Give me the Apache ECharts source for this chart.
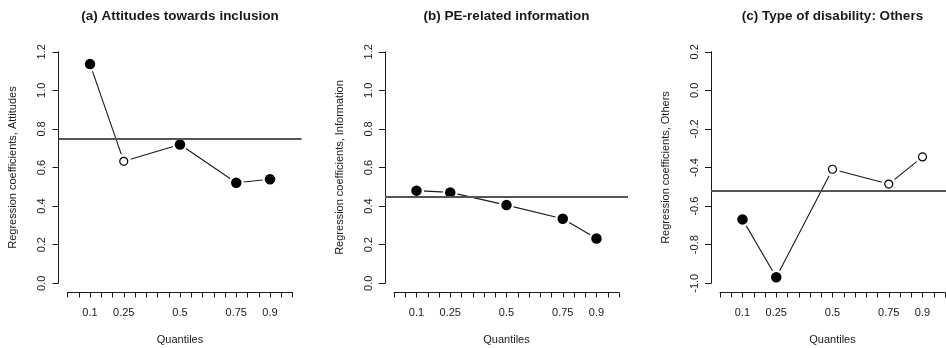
<!DOCTYPE html>
<html>
<head>
<meta charset="utf-8">
<script src="https://cdn.jsdelivr.net/npm/echarts@6/dist/echarts.min.js"></script>
<style>
  html, body { margin: 0; padding: 0; background: #fff; }
  #chart { width: 946px; height: 348px; }
</style>
</head>
<body>
<div id="chart"></div>
<script>
// quantile levels, shared by all three panels
var quantiles = [0.1, 0.25, 0.5, 0.75, 0.9];
var quantileLabels = [0.1, 0.25, 0.5, 0.75, 0.9];

// (a) attitudes
var attitudesCoef = [1.136, 0.632, 0.719, 0.521, 0.539];
var attitudesSig = [true, false, true, true, true];
var attitudesOls = 0.75;

// (b) information
var informationCoef = [0.480, 0.471, 0.405, 0.334, 0.232];
var informationSig = [true, true, true, true, true];
var informationOls = 0.452;

// (c) others
var othersCoef = [-0.669, -0.969, -0.409, -0.486, -0.345];
var othersSig = [true, true, false, false, false];
var othersOls = -0.522;

var titles = ['(a) Attitudes towards inclusion', '(b) PE-related information', '(c) Type of disability: Others'];
var yNames = ['Regression coefficients, Attitudes', 'Regression coefficients, Information', 'Regression coefficients, Others'];
var yRanges = [[0, 1.2], [0, 1.2], [-1.0, 0.2]];

var panels = [
  { coef: attitudesCoef, sig: attitudesSig, ols: attitudesOls },
  { coef: informationCoef, sig: informationSig, ols: informationOls },
  { coef: othersCoef, sig: othersSig, ols: othersOls }
];

var chart = echarts.init(document.getElementById('chart'));

var font = 'Liberation Sans, Arial, sans-serif';
var ink = '#1a1a1a';
var lefts = [58.5, 385, 711];
var plotW = 243, plotTop = 42.5, plotH = 250;
var padX = plotW * 0.04 / 1.08;
var padY = plotH * 0.04 / 1.08;

var grid = [], xAxis = [], yAxis = [], series = [], title = [];

panels.forEach(function (p, i) {
  var yr = yRanges[i];
  var ext = (yr[1] - yr[0]) * 0.04;
  var left = lefts[i];

  // outer plot region (R's usr box), axes hidden
  grid.push({ left: left, top: plotTop, width: plotW, height: plotH, outerBoundsMode: 'none' });
  // inner region spanning the tick range, for the visible axes
  grid.push({
    left: left + padX, top: plotTop + padY, width: plotW - 2 * padX, height: plotH - 2 * padY,
    outerBoundsMode: 'none'
  });

  var g = i * 2;
  xAxis.push({ gridIndex: g, type: 'value', min: -0.04, max: 1.04, show: false });
  yAxis.push({ gridIndex: g, type: 'value', min: yr[0] - ext, max: yr[1] + ext, show: false });

  xAxis.push({
    gridIndex: g + 1, type: 'value', min: 0, max: 1, interval: 0.05,
    position: 'bottom', offset: padY,
    name: 'Quantiles', nameLocation: 'middle', nameGap: 42,
    nameTextStyle: { fontFamily: font, fontSize: 11, color: ink },
    axisLine: { onZero: false, lineStyle: { color: ink, width: 1 } },
    axisTick: { length: 5, lineStyle: { color: ink } },
    axisLabel: {
      customValues: quantileLabels, margin: 15,
      fontFamily: font, fontSize: 11, color: ink,
      formatter: function (v) { return String(v); }
    },
    splitLine: { show: false }
  });
  yAxis.push({
    gridIndex: g + 1, type: 'value', min: yr[0], max: yr[1], interval: 0.2,
    position: 'left', offset: padX,
    name: yNames[i], nameLocation: 'middle', nameGap: 40,
    nameTextStyle: { fontFamily: font, fontSize: 11, color: ink },
    axisLine: { show: true, onZero: false, lineStyle: { color: ink, width: 1 } },
    axisTick: { show: true, length: 6, lineStyle: { color: ink } },
    axisLabel: {
      rotate: 90, margin: 11,
      fontFamily: font, fontSize: 11, color: ink,
      formatter: function (v) { return Math.abs(v) < 1e-9 ? '0.0' : v.toFixed(1); }
    },
    splitLine: { show: false }
  });

  var pts = quantiles.map(function (q, k) { return [q, p.coef[k]]; });

  series.push({
    type: 'line', xAxisIndex: g, yAxisIndex: g,
    data: pts, symbol: 'none', z: 2,
    lineStyle: { color: ink, width: 1.1 },
    markLine: {
      silent: true, symbol: 'none', label: { show: false },
      lineStyle: { color: '#555', width: 1.8, type: 'solid' },
      data: [{ yAxis: p.ols }]
    }
  });
  series.push({
    type: 'scatter', xAxisIndex: g, yAxisIndex: g, z: 3,
    data: pts, symbolSize: 15,
    itemStyle: { color: '#fff', opacity: 1 }
  });
  series.push({
    type: 'scatter', xAxisIndex: g, yAxisIndex: g, z: 4,
    data: pts.map(function (pt, k) {
      return p.sig[k]
        ? { value: pt, symbolSize: 10.5, itemStyle: { color: '#000' } }
        : { value: pt, symbolSize: 8, itemStyle: { color: '#fff', borderColor: '#000', borderWidth: 1.2 } };
    }),
    itemStyle: { opacity: 1 }
  });

  title.push({
    text: titles[i], left: left + plotW / 2, top: 9, textAlign: 'center', padding: 0,
    textStyle: { fontFamily: font, fontSize: 13.5, fontWeight: 'bold', color: ink }
  });
});

chart.setOption({
  animation: false,
  title: title,
  grid: grid,
  xAxis: xAxis,
  yAxis: yAxis,
  series: series
});
</script>
</body>
</html>
